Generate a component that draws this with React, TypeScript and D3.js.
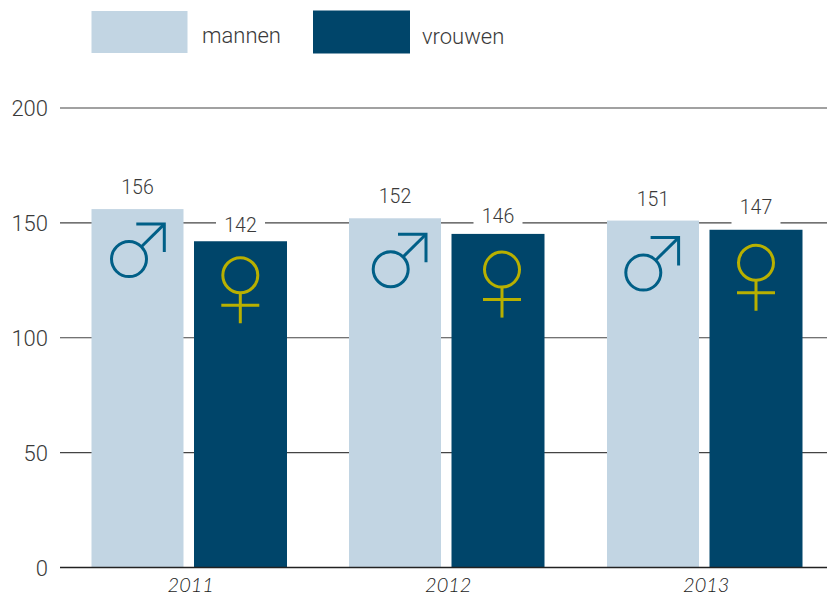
import React from "react";
import * as d3 from "d3";

const years = ["2011", "2012", "2013"];
const mannen = [156, 152, 151];
const vrouwen = [142, 146, 147];
const vrouwenBar = [142, 145.2, 147];
const yTicks = [0, 50, 100, 150, 200];
const legendLabels = ["mannen", "vrouwen"];

const W = 827, H = 596;
const FONT = "Roboto, sans-serif";
const TEXT = "#3a3a3a";
const LIGHT = "#c2d5e3", DARK = "#00456a", MALE = "#005f87", FEMALE = "#b8b000";

const y = d3.scaleLinear().domain([0, 200]).range([567.5, 108]);
// layout tweaks, per year
const groupLeft = [91.5, 349, 607];
const BW_M = 92, BW_F = 93, GAP = 10.5;
const maleLabelDy = [22.5, 22, 21.5];
const femaleLabelDy = [16, 18, 23];
const maleSym = [[129, 50], [390.7, 51], [643.3, 52]];
const femaleSym = [[240.3, 34], [502, 35.7], [756, 33]];

function Male({ cx, cy }: { cx: number; cy: number }) {
  const r = 17.5, tx = cx + 35.3, ty = cy - 35;
  const a = Math.SQRT1_2;
  const line = d3.line();
  return (
    <g fill="none" stroke={MALE} strokeWidth={3}>
      <circle cx={cx} cy={cy} r={r} />
      <path d={line([[cx + r * a, cy - r * a], [tx, ty]])!} />
      <path d={line([[tx - 28, ty], [tx, ty], [tx, ty + 28]])!} />
    </g>
  );
}

function Female({ cx, cy }: { cx: number; cy: number }) {
  const r = 17.5;
  const line = d3.line();
  return (
    <g fill="none" stroke={FEMALE} strokeWidth={3}>
      <circle cx={cx} cy={cy} r={r} />
      <path d={line([[cx, cy + r], [cx, cy + 48]])!} />
      <path d={line([[cx - 19, cy + 30], [cx + 19, cy + 30]])!} />
    </g>
  );
}

export default function App() {
  return (
    <svg width={W} height={H} style={{ position: "absolute", left: 0, top: 0, background: "#fff" }} fontFamily={FONT} fontWeight={300}>
      {yTicks.filter((t) => t > 0).map((t) => (
        <line key={t} x1={60} x2={827} y1={y(t)} y2={y(t)} stroke="#444" strokeWidth={1.2} />
      ))}
      {yTicks.map((t) => (
        <text key={t} x={48} y={y(t) + 8} textAnchor="end" fontSize={22} fill={TEXT}>{t}</text>
      ))}

      {years.map((yr, i) => {
        const mx = groupLeft[i];
        const fx = mx + BW_M + GAP;
        const mTop = y(mannen[i]);
        const fTop = y(vrouwenBar[i]);
        const fc = fx + BW_F / 2;
        const mc = mx + BW_M / 2;
        return (
          <g key={yr}>
            <rect x={fc - 24.5} y={fTop - 28} width={49} height={28} fill="#fff" />
            <rect x={mx} y={mTop} width={BW_M} height={y(0) - mTop} fill={LIGHT} />
            <rect x={fx} y={fTop} width={BW_F} height={y(0) - fTop} fill={DARK} />
            <text x={mc} y={mTop - maleLabelDy[i] + 7} textAnchor="middle" fontSize={19.5} fill={TEXT}>{mannen[i]}</text>
            <text x={fc} y={fTop - femaleLabelDy[i] + 7} textAnchor="middle" fontSize={19.5} fill={TEXT}>{vrouwen[i]}</text>
            <Male cx={maleSym[i][0]} cy={mTop + maleSym[i][1]} />
            <Female cx={femaleSym[i][0]} cy={fTop + femaleSym[i][1]} />
            <text x={fx - GAP / 2 + 2} y={591.5} textAnchor="middle" fontSize={20} fontStyle="italic" fontWeight={300} fontFamily="Lato, sans-serif" fill="#1c1c1c">{yr}</text>
          </g>
        );
      })}

      <line x1={60} x2={827} y1={y(0)} y2={y(0)} stroke="#222" strokeWidth={1.6} />

      <rect x={91.5} y={11} width={96} height={42} fill={LIGHT} />
      <text x={202} y={43} fontSize={22} fill={TEXT}>{legendLabels[0]}</text>
      <rect x={313} y={10.5} width={97} height={43} fill={DARK} />
      <text x={422} y={44} fontSize={22} fill={TEXT}>{legendLabels[1]}</text>
    </svg>
  );
}
